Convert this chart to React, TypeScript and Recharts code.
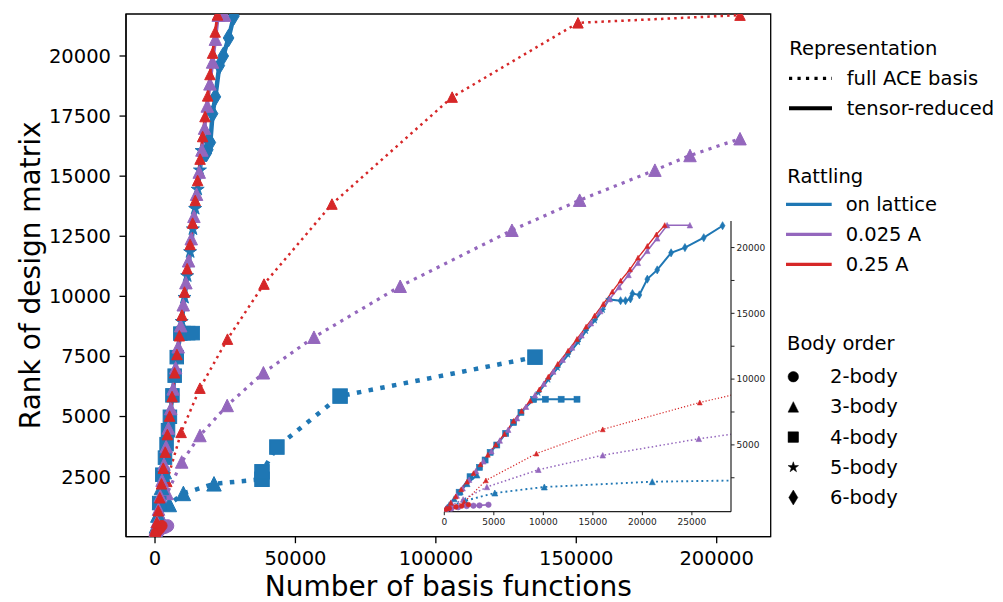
import React from 'react';
import { ComposedChart, Line, XAxis, YAxis, ReferenceArea } from 'recharts';

const BLUE = '#1f77b4';
const PURPLE = '#9467bd';
const RED = '#d62728';
const FONT = 'DejaVu Sans, Verdana, sans-serif';

// ---------- axes ----------
const MAIN_X_DOMAIN = [-10330, 219230];
const MAIN_Y_DOMAIN = [0, 21747];
const MAIN_X_TICKS = [0, 50000, 100000, 150000, 200000];
const MAIN_Y_TICKS = [2500, 5000, 7500, 10000, 12500, 15000, 17500, 20000];
const INSET_X_DOMAIN = [0, 28950];
const INSET_Y_DOMAIN = [-80, 22020];
const INSET_X_TICKS = [0, 5000, 10000, 15000, 20000, 25000];
const INSET_Y_TICKS = [2500, 5000, 7500, 10000, 12500, 15000, 17500, 20000];

// ---------- full ACE basis (dotted) ----------
const fullBlueX = [300, 2100, 5100, 10100, 21000, 38100, 38100, 43400, 65900, 135300];
const fullBlueY = [250, 750, 1340, 1800, 2200, 2390, 2700, 3730, 5850, 7470];
const fullBlueBody = [3, 3, 3, 3, 3, 4, 4, 4, 4, 4];

const fullPurpleX = [300, 1900, 4300, 9500, 16000, 25700, 38600, 56600, 87300, 127100, 151200, 178000, 190500, 208300];
const fullPurpleY = [220, 850, 1800, 3110, 4210, 5460, 6820, 8300, 10420, 12750, 14000, 15250, 15860, 16560];

const fullRedX = [300, 2000, 4200, 9300, 16000, 25800, 38800, 63000, 105800, 150600, 208300];
const fullRedY = [200, 640, 2300, 4340, 6180, 8220, 10510, 13840, 18290, 21380, 21700];

// ---------- tensor-reduced (solid) ----------
const trBlue3X = [150, 500, 1000, 1600, 2300, 3300];
const trBlue3Y = [120, 450, 900, 1450, 2050, 2710];

const trBlue4X = [1500, 2600, 3550, 4120, 4630, 5300, 6200, 7000, 7740, 9020, 10200, 11800, 13400];
const trBlue4Y = [1400, 2580, 3290, 3850, 4430, 4990, 5880, 6700, 7470, 8450, 8470, 8470, 8470];

const trBlueHighX = [9500, 10500, 11450, 12500, 13500, 14300, 15200, 16000, 16600, 17800, 18300, 18800, 19000, 19700, 20500, 21500, 22900, 24300, 26200, 28100];
const trBlueHighY = [8950, 9950, 10850, 11850, 12800, 13650, 14450, 15250, 16060, 15960, 15960, 16100, 16500, 16400, 17600, 18300, 19600, 20000, 20750, 21660];
const trBlueHighBody = [5, 5, 5, 5, 5, 5, 5, 5, 5, 6, 6, 6, 6, 6, 6, 6, 6, 6, 6, 6];

const trPurple2X = [150, 700, 1400, 2260, 2940, 3550, 4460];
const trPurple2Y = [30, 150, 260, 350, 380, 400, 450];

const trPurple3X = [200, 700, 1250, 1850, 2500, 3200, 3950, 4750, 5600, 6450, 7350, 8250, 9150, 10050, 11000, 11950, 12900, 13850, 14800, 15750, 16700, 17650, 18600, 19550, 20500, 21500, 22500, 24800];
const trPurple3Y = [170, 620, 1150, 1700, 2350, 3020, 3750, 4520, 5330, 6150, 7030, 7900, 8780, 9650, 10570, 11480, 12400, 13330, 14250, 15170, 16090, 17000, 17920, 18840, 19750, 20700, 21700, 21700];

const trRed2X = [100, 500, 1180, 1760, 2430];
const trRed2Y = [40, 180, 280, 350, 460];

const trRed3X = [200, 650, 1150, 1700, 2300, 2950, 3650, 4400, 5200, 6080, 6990, 7800, 8680, 9590, 10500, 11450, 12500, 13400, 14320, 15170, 16050, 16960, 17800, 18750, 19560, 20500, 21420, 22260];
const trRed3Y = [180, 600, 1080, 1620, 2200, 2850, 3520, 4250, 5020, 5830, 6820, 7580, 8360, 9220, 10180, 11150, 12160, 13050, 13990, 14820, 15710, 16650, 17480, 18340, 19230, 20120, 21000, 21710];

type Pt = { x: number; y: number; b: number };
const mk = (xs: number[], ys: number[], bs: number[] | number): Pt[] =>
  xs.map((x, i) => ({ x, y: ys[i], b: typeof bs === 'number' ? bs : bs[i] }));

type Series = {
  id: string;
  data: Pt[];
  color: string;
  dotted: boolean;
  lw: number;
  ms: number;
  insetLw: number;
  insetMs: number;
};

const SERIES: Series[] = [
  { id: 'fb', data: mk(fullBlueX, fullBlueY, fullBlueBody), color: BLUE, dotted: true, lw: 4.5, ms: 14.5, insetLw: 1.9, insetMs: 6 },
  { id: 'fp', data: mk(fullPurpleX, fullPurpleY, 3), color: PURPLE, dotted: true, lw: 3.2, ms: 12.5, insetLw: 1.5, insetMs: 5.5 },
  { id: 'fr', data: mk(fullRedX, fullRedY, 3), color: RED, dotted: true, lw: 2.5, ms: 10.5, insetLw: 1.2, insetMs: 4.8 },
  { id: 'tb3', data: mk(trBlue3X, trBlue3Y, 3), color: BLUE, dotted: false, lw: 4.5, ms: 14.5, insetLw: 2, insetMs: 6 },
  { id: 'tb4', data: mk(trBlue4X, trBlue4Y, 4), color: BLUE, dotted: false, lw: 4.5, ms: 13.5, insetLw: 2, insetMs: 6 },
  { id: 'tbh', data: mk(trBlueHighX, trBlueHighY, trBlueHighBody), color: BLUE, dotted: false, lw: 4.5, ms: 13, insetLw: 2, insetMs: 6 },
  { id: 'tp2', data: mk(trPurple2X, trPurple2Y, 2), color: PURPLE, dotted: false, lw: 3.5, ms: 12.5, insetLw: 1.6, insetMs: 5.5 },
  { id: 'tp3', data: mk(trPurple3X, trPurple3Y, 3), color: PURPLE, dotted: false, lw: 3.5, ms: 12.5, insetLw: 1.6, insetMs: 5.5 },
  { id: 'tr2', data: mk(trRed2X, trRed2Y, 2), color: RED, dotted: false, lw: 2.8, ms: 10.5, insetLw: 1.3, insetMs: 4.8 },
  { id: 'tr3', data: mk(trRed3X, trRed3Y, 3), color: RED, dotted: false, lw: 2.8, ms: 10.5, insetLw: 1.3, insetMs: 4.8 },
];

function starPath(cx: number, cy: number, R: number) {
  const pts: string[] = [];
  for (let i = 0; i < 10; i++) {
    const a = (-90 + i * 36) * Math.PI / 180;
    const r = i % 2 === 0 ? R : R * 0.382;
    pts.push(`${cx + r * Math.cos(a)},${cy + r * Math.sin(a)}`);
  }
  return 'M' + pts.join('L') + 'Z';
}

function marker(key: string, cx: number, cy: number, b: number, ms: number, color: string, ew = 1) {
  const h = ms / 2;
  switch (b) {
    case 2:
      return <circle key={key} cx={cx} cy={cy} r={h} fill={color} stroke={color} strokeWidth={ew} />;
    case 3:
      return (
        <polygon key={key} points={`${cx},${cy - h} ${cx - h},${cy + h} ${cx + h},${cy + h}`} fill={color} stroke={color} strokeWidth={ew} strokeLinejoin="miter" />
      );
    case 4:
      return <rect key={key} x={cx - h} y={cy - h} width={ms} height={ms} fill={color} stroke={color} strokeWidth={ew} />;
    case 5:
      return <path key={key} d={starPath(cx, cy, h * 1.05)} fill={color} stroke={color} strokeWidth={ew} />;
    default: {
      const H = ms * 0.68;
      const W = H * 0.6;
      return (
        <polygon key={key} points={`${cx},${cy - H} ${cx + W},${cy} ${cx},${cy + H} ${cx - W},${cy}`} fill={color} stroke={color} strokeWidth={ew} />
      );
    }
  }
}

const dash = (lw: number) => `${lw} ${lw * 1.65}`;

function makeDot(s: Series, inset: boolean) {
  return (props: any) => {
    const { cx, cy, payload, index } = props;
    const key = `${s.id}-${inset ? 'i' : 'm'}-${index}`;
    if (cx == null || cy == null) return <g key={key} />;
    if (inset) {
      if (payload.x > INSET_X_DOMAIN[1] || payload.y > INSET_Y_DOMAIN[1]) return <g key={key} />;
    }
    return marker(key, cx, cy, payload.b, inset ? s.insetMs : s.ms, s.color, inset ? 0.6 : 1);
  };
}

function MainChart() {
  return (
    <ComposedChart width={1003} height={602} margin={{ top: 14, right: 232.3, bottom: 0, left: 0 }}>
      <XAxis
        type="number"
        dataKey="x"
        domain={MAIN_X_DOMAIN}
        ticks={MAIN_X_TICKS}
        interval={0}
        allowDataOverflow
        height={65.3}
        tickSize={6.5}
        tickMargin={8}
        tick={{ fill: '#000', fontSize: 19.5, fontFamily: FONT }}
        axisLine={{ stroke: '#000', strokeWidth: 1.3 }}
        tickLine={{ stroke: '#000', strokeWidth: 1.3 }}
      />
      <YAxis
        type="number"
        dataKey="y"
        domain={MAIN_Y_DOMAIN}
        ticks={MAIN_Y_TICKS}
        interval={0}
        allowDataOverflow
        width={126}
        tickSize={6.5}
        tickMargin={8.5}
        tick={{ fill: '#000', fontSize: 19.5, fontFamily: FONT }}
        axisLine={{ stroke: '#000', strokeWidth: 1.3 }}
        tickLine={{ stroke: '#000', strokeWidth: 1.3 }}
      />
      {SERIES.map((s) => (
        <Line
          key={s.id}
          data={s.data}
          dataKey="y"
          type="linear"
          stroke={s.color}
          strokeWidth={s.lw}
          strokeDasharray={s.dotted ? dash(s.lw) : undefined}
          dot={makeDot(s, false)}
          activeDot={false}
          isAnimationActive={false}
        />
      ))}
      <ReferenceArea
        x1={MAIN_X_DOMAIN[0]}
        x2={MAIN_X_DOMAIN[1]}
        y1={MAIN_Y_DOMAIN[0]}
        y2={MAIN_Y_DOMAIN[1]}
        fill="none"
        fillOpacity={0}
        stroke="#000"
        strokeWidth={1.3}
        strokeOpacity={1}
      />
    </ComposedChart>
  );
}

function InsetChart() {
  return (
    <ComposedChart width={380} height={340} margin={{ top: 21, right: 0, bottom: 0, left: 44.3 }}>
      <XAxis
        type="number"
        dataKey="x"
        domain={INSET_X_DOMAIN}
        ticks={INSET_X_TICKS}
        interval={0}
        allowDataOverflow
        height={28.3}
        tickSize={3.5}
        tickMargin={3.5}
        tick={{ fill: '#222', fontSize: 9, fontFamily: FONT }}
        axisLine={{ stroke: '#222', strokeWidth: 1.2 }}
        tickLine={{ stroke: '#222', strokeWidth: 1 }}
      />
      <YAxis
        type="number"
        dataKey="y"
        orientation="right"
        domain={INSET_Y_DOMAIN}
        ticks={INSET_Y_TICKS}
        interval={0}
        allowDataOverflow
        width={49}
        tickSize={3.5}
        tickMargin={2}
        tickFormatter={(v: number) => (v % 5000 === 0 ? String(v) : '')}
        tick={{ fill: '#222', fontSize: 9, fontFamily: FONT }}
        axisLine={{ stroke: '#222', strokeWidth: 1.2 }}
        tickLine={{ stroke: '#222', strokeWidth: 1 }}
      />
      {SERIES.map((s) => (
        <Line
          key={s.id}
          data={s.data}
          dataKey="y"
          type="linear"
          stroke={s.color}
          strokeWidth={s.insetLw}
          strokeDasharray={s.dotted ? dash(s.insetLw) : undefined}
          dot={makeDot(s, true)}
          activeDot={false}
          isAnimationActive={false}
        />
      ))}
    </ComposedChart>
  );
}

const LEGEND_REPR = ['full ACE basis', 'tensor-reduced'];
const LEGEND_RATTLING = ['on lattice', '0.025 A', '0.25 A'];
const LEGEND_COLORS = [BLUE, PURPLE, RED];
const LEGEND_BODY = ['2-body', '3-body', '4-body', '5-body', '6-body'];

function Overlay() {
  const t = { fontFamily: FONT, fontSize: 19.5, fill: '#000' } as const;
  return (
    <svg width={1003} height={602} style={{ position: 'absolute', left: 0, top: 0, pointerEvents: 'none' }}>
      <text x={448.3} y={596} textAnchor="middle" style={{ ...t, fontSize: 28 }}>Number of basis functions</text>
      <text x={40} y={275.3} textAnchor="middle" transform="rotate(-90 40 275.3)" style={{ ...t, fontSize: 28 }}>Rank of design matrix</text>

      <text x={789.3} y={48.3} dominantBaseline="central" style={t}>Representation</text>
      {LEGEND_REPR.map((lab, i) => (
        <g key={lab}>
          <line x1={789} x2={832} y1={78.3 + i * 30} y2={78.3 + i * 30} stroke="#000" strokeWidth={i === 0 ? 3.2 : 4} strokeDasharray={i === 0 ? dash(3.2) : undefined} />
          <text x={846.7} y={78.3 + i * 30} dominantBaseline="central" style={t}>{lab}</text>
        </g>
      ))}

      <text x={787.3} y={176.7} dominantBaseline="central" style={t}>Rattling</text>
      {LEGEND_RATTLING.map((lab, i) => (
        <g key={lab}>
          <line x1={786} x2={831.7} y1={204.3 + i * 30} y2={204.3 + i * 30} stroke={LEGEND_COLORS[i]} strokeWidth={3.3} />
          <text x={845.7} y={204.3 + i * 30} dominantBaseline="central" style={t}>{lab}</text>
        </g>
      ))}

      <text x={787} y={343.3} dominantBaseline="central" style={t}>Body order</text>
      {LEGEND_BODY.map((lab, i) => (
        <g key={lab}>
          {marker(`lm-${i}`, 793.3, 376.7 + i * 30.2, i + 2, i === 4 ? 11 : 10.5, '#000', 0.5)}
          <text x={830} y={376.7 + i * 30.2} dominantBaseline="central" style={t}>{lab}</text>
        </g>
      ))}
    </svg>
  );
}

export default function App() {
  return (
    <div style={{ position: 'absolute', left: 0, top: 0, width: 1003, height: 602, background: '#fff' }}>
      <div style={{ position: 'absolute', left: 0, top: 0 }}>
        <MainChart />
      </div>
      <div style={{ position: 'absolute', left: 400, top: 200 }}>
        <InsetChart />
      </div>
      <Overlay />
    </div>
  );
}
